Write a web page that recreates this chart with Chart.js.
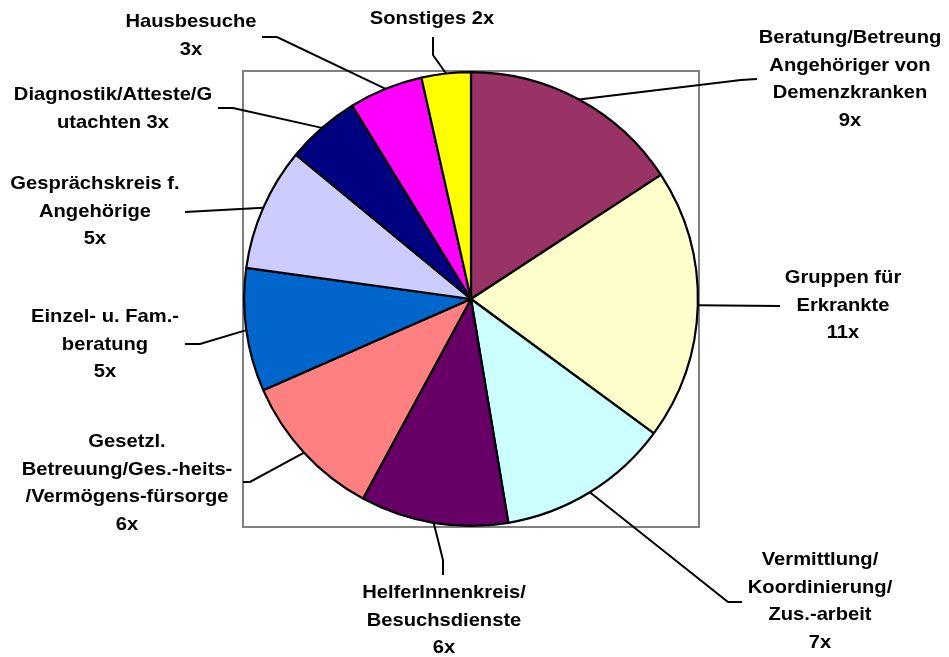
<!DOCTYPE html>
<html>
<head>
<meta charset="utf-8">
<script src="https://cdn.jsdelivr.net/npm/chart.js@4.4.1/dist/chart.umd.min.js"></script>
<style>
  html, body { margin: 0; padding: 0; background: #fff; }
  canvas { display: block; }
</style>
</head>
<body>
<canvas id="pieChart" width="949" height="657"></canvas>
<script>
// data
const categories = [
    "Beratung/Betreung Angehöriger von Demenzkranken",
    "Gruppen für Erkrankte",
    "Vermittlung/ Koordinierung/ Zus.-arbeit",
    "HelferInnenkreis/ Besuchsdienste",
    "Gesetzl. Betreuung/Ges.-heits-/Vermögens-fürsorge",
    "Einzel- u. Fam.-beratung",
    "Gesprächskreis f. Angehörige",
    "Diagnostik/Atteste/Gutachten",
    "Hausbesuche",
    "Sonstiges"
];
const counts = [9, 11, 7, 6, 6, 5, 5, 3, 3, 2];

// how the label text is wrapped, and whether the count sits on the last line
const labelLines = [
    ["Beratung/Betreung", "Angehöriger von", "Demenzkranken"],
    ["Gruppen für", "Erkrankte"],
    ["Vermittlung/", "Koordinierung/", "Zus.-arbeit"],
    ["HelferInnenkreis/", "Besuchsdienste"],
    ["Gesetzl.", "Betreuung/Ges.-heits-", "/Vermögens-fürsorge"],
    ["Einzel- u. Fam.-", "beratung"],
    ["Gesprächskreis f.", "Angehörige"],
    ["Diagnostik/Atteste/G", "utachten"],
    ["Hausbesuche"],
    ["Sonstiges"]
];
const countInline = [false, false, false, false, false, false, false, true, false, true];

const sliceColors = ['#993366', '#FFFFCC', '#CCFFFF', '#660066', '#FF8080',
                     '#0066CC', '#CCCCFF', '#000080', '#FF00FF', '#FFFF00'];

// label placement: text centre x, first line centre y, leader start and elbow
const labelPos = [
    { x: 850, y: 38,  ax: 757, ay: 79,  ex: 741, ey: 80 },
    { x: 843, y: 278, ax: 780, ay: 306, ex: 780, ey: 306 },
    { x: 820, y: 560, ax: 742, ay: 602, ex: 728, ey: 602 },
    { x: 444, y: 593, ax: 443, ay: 575, ex: 443, ey: 560 },
    { x: 127, y: 442, ax: 243, ay: 482, ex: 250, ey: 482 },
    { x: 105, y: 317, ax: 185, ay: 344, ex: 200, ey: 344 },
    { x: 95,  y: 184, ax: 185, ay: 212, ex: 185, ey: 212 },
    { x: 113, y: 95,  ax: 218, ay: 108, ex: 233, ey: 108 },
    { x: 191, y: 22,  ax: 262, ay: 37,  ex: 277, ey: 37 },
    { x: 432, y: 19,  ax: 433, ay: 37,  ex: 433, ey: 55 }
];

const LINE_H = 27.5;
const FONT = 'bold 18.5px "Liberation Sans", Arial, sans-serif';
const X_STRETCH = 1.09;

const framePlugin = {
    id: 'frame',
    beforeDatasetsDraw(chart) {
        const { ctx, chartArea } = chart;
        ctx.save();
        ctx.strokeStyle = '#808080';
        ctx.lineWidth = 2;
        ctx.strokeRect(chartArea.left, chartArea.top, chartArea.right - chartArea.left, chartArea.bottom - chartArea.top);
        ctx.restore();
    }
};

const labelPlugin = {
    id: 'sliceLabels',
    afterDatasetsDraw(chart) {
        const ctx = chart.ctx;
        const arcs = chart.getDatasetMeta(0).data;
        ctx.save();
        arcs.forEach((arc, i) => {
            const p = labelPos[i];
            const mid = (arc.startAngle + arc.endAngle) / 2;
            const px = arc.x + Math.cos(mid) * arc.outerRadius;
            const py = arc.y + Math.sin(mid) * arc.outerRadius;

            // leader line
            ctx.strokeStyle = '#000';
            ctx.lineWidth = 2;
            ctx.beginPath();
            ctx.moveTo(p.ax, p.ay);
            ctx.lineTo(p.ex, p.ey);
            ctx.lineTo(px, py);
            ctx.stroke();

            // text
            let lines = labelLines[i].slice();
            const cnt = counts[i] + 'x';
            if (countInline[i]) {
                lines[lines.length - 1] += ' ' + cnt;
            } else {
                lines.push(cnt);
            }
            ctx.fillStyle = '#000';
            ctx.font = FONT;
            ctx.textAlign = 'center';
            ctx.textBaseline = 'middle';
            lines.forEach((t, k) => {
                ctx.save();
                ctx.translate(p.x, p.y + k * LINE_H);
                ctx.scale(X_STRETCH, 1);
                ctx.fillText(t, 0, 0);
                ctx.restore();
            });
        });
        ctx.restore();
    }
};

const ctx = document.getElementById('pieChart').getContext('2d');
const pieChart = new Chart(ctx, {
    type: 'pie',
    data: {
        labels: categories,
        datasets: [{
            data: counts,
            backgroundColor: sliceColors,
            borderColor: '#000',
            borderWidth: 2.2
        }]
    },
    options: {
        responsive: false,
        animation: false,
        layout: {
            padding: { left: 243, right: 250, top: 71, bottom: 130 }
        },
        plugins: {
            legend: { display: false },
            tooltip: { enabled: false }
        }
    },
    plugins: [framePlugin, labelPlugin]
});
</script>
</body>
</html>
